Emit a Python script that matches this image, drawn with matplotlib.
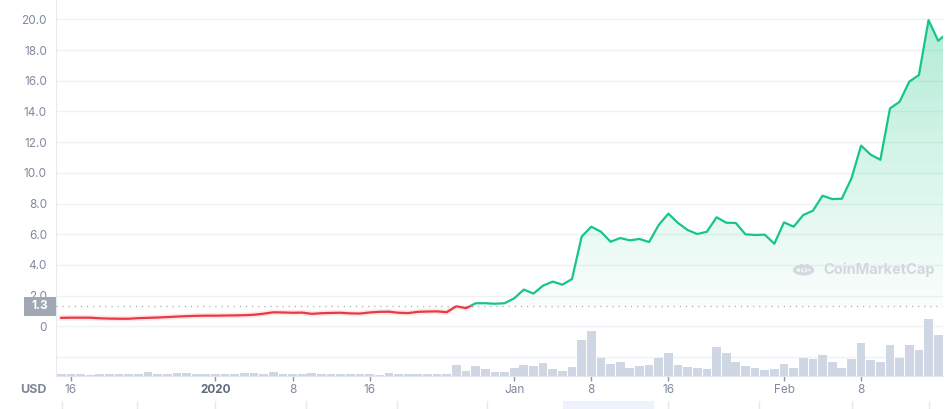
import matplotlib

matplotlib.use("Agg")

import matplotlib.pyplot as plt
import matplotlib.transforms as mtransforms
import numpy as np
from matplotlib.colors import LinearSegmentedColormap
from matplotlib.patches import Circle, Rectangle
from matplotlib.path import Path


# daily price (USD) and traded volume (millions)
PRICE = [
    0.55, 0.56, 0.56, 0.56, 0.52, 0.50, 0.49, 0.49, 0.53, 0.55,
    0.57, 0.60, 0.63, 0.66, 0.68, 0.69, 0.69, 0.70, 0.71, 0.72,
    0.75, 0.82, 0.91, 0.90, 0.88, 0.89, 0.81, 0.85, 0.87, 0.88,
    0.84, 0.83, 0.90, 0.94, 0.95, 0.88, 0.86, 0.94, 0.96, 0.97,
    0.92,
    1.31, 1.18, 1.50, 1.50, 1.47, 1.50, 1.82, 2.39, 2.13, 2.65,
    2.91, 2.71, 3.08, 5.84, 6.49, 6.16, 5.51, 5.75, 5.60, 5.69,
    5.49, 6.60, 7.34, 6.73, 6.27, 6.01, 6.16, 7.10, 6.75, 6.73,
    5.99, 5.95, 5.97, 5.38, 6.77, 6.49, 7.25, 7.53, 8.51, 8.29,
    8.31, 9.64, 11.77, 11.18, 10.85, 14.20, 14.63, 15.94, 16.37, 19.95,
    18.60, 19.15,
]

VOLUME = [
    2, 2, 2, 1, 2, 2, 2, 2, 2, 4,
    2, 2, 3, 3, 2, 2, 2, 2, 2, 3,
    3, 2, 4, 2, 2, 2, 3, 2, 2, 2,
    2, 2, 2, 1, 3, 2, 2, 2, 2, 2,
    2, 11, 5, 10, 7, 4, 4, 8, 11, 10,
    13, 7, 5, 9, 36, 45, 18, 12, 14, 8,
    10, 11, 18, 23, 11, 9, 8, 7, 29, 23,
    14, 10, 8, 6, 7, 12, 8, 18, 17, 21,
    14, 8, 17, 33, 16, 14, 31, 18, 31, 26,
    57, 41, 40,
]

BASELINE = 1.3

TICK_INDEX = [1, 16, 24, 32, 47, 55, 63, 75, 83]
TICK_LABELS = ["16", "2020", "8", "16", "Jan", "8", "16", "Feb", "8"]

NAV_GRID = [0.1, 7.9, 15.9, 25.4, 34.8, 44.2, 53.7, 63.0, 72.4, 82.1, 90.0]
NAV_WINDOW = (52.1, 61.4)

GREEN = "#16c784"
RED = "#ea3943"
GRID = "#eff2f5"
BAR = "#cfd6e4"
LABEL = "#808a9d"

plt.rcParams["font.family"] = ["Inter", "DejaVu Sans"]


def main() -> None:
    price = np.array(PRICE)
    volume = np.array(VOLUME)
    x = np.arange(len(price))

    x_min, x_max = -0.58, 91.5
    y_min, y_max = -3.24, 21.26

    fig = plt.figure(figsize=(9.51, 4.09), dpi=100)
    ax = fig.add_axes([55.7 / 951, 33 / 409, (943 - 55.7) / 951, 376 / 409])
    ax.set_xlim(x_min, x_max)
    ax.set_ylim(y_min, y_max)

    # grid / axes styling
    ax.set_yticks(np.arange(-2, 21, 2))
    ax.set_yticklabels(
        ["", "0"] + [f"{v:.1f}" for v in np.arange(2, 21, 2)]
    )
    ax.grid(axis="y", color=GRID, linewidth=1)
    ax.tick_params(axis="y", length=0, pad=6.3, labelsize=8.5, labelcolor=LABEL)
    ax.set_xticks(TICK_INDEX)
    ax.set_xticklabels(TICK_LABELS)
    ax.tick_params(
        axis="x", length=3.6, width=1, color="#8f96a6", pad=2.5,
        labelsize=8.5, labelcolor=LABEL,
    )
    for label in ax.get_xticklabels():
        if label.get_text() == "2020":
            label.set_fontweight("bold")
            label.set_color("#616a7d")
    for side in ("top", "right"):
        ax.spines[side].set_visible(False)
    ax.spines["left"].set_color("#e6e9ee")
    ax.spines["bottom"].set_color("#e3e6ec")

    # volume bars on their own vertical scale at the bottom of the pane
    vol_top = volume[:92].max() / 0.152
    vol_trans = mtransforms.blended_transform_factory(
        ax.transData, mtransforms.Affine2D().scale(1, 1 / vol_top) + ax.transAxes
    )
    ax.bar(x, volume, width=0.9, color=BAR, transform=vol_trans, zorder=2)

    # green gradient fill above the baseline
    poly = ax.fill_between(
        x, price, BASELINE, where=price >= BASELINE, interpolate=True,
        facecolor="none", edgecolor="none",
    )
    clip = Path.make_compound_path(*poly.get_paths())
    poly.remove()
    cmap = LinearSegmentedColormap.from_list(
        "fade", [(0.086, 0.78, 0.52, 0.02), (0.086, 0.78, 0.52, 0.34)]
    )
    grad = np.linspace(0, 1, 256).reshape(-1, 1)
    im = ax.imshow(
        grad, extent=[x_min, x_max, BASELINE, 20.5], origin="lower",
        aspect="auto", cmap=cmap, zorder=2.5, interpolation="bilinear",
    )
    im.set_clip_path(clip, ax.transData)

    # price line: green above baseline, red below
    above = Rectangle((x_min, BASELINE), x_max - x_min, 50, transform=ax.transData)
    below = Rectangle((x_min, -50), x_max - x_min, 50 + BASELINE, transform=ax.transData)
    halo, = ax.plot(x, price, color=RED, linewidth=4, alpha=0.12, zorder=2.8)
    halo.set_clip_path(below)
    green, = ax.plot(x, price, color=GREEN, linewidth=1.6, zorder=3,
                     solid_joinstyle="round")
    green.set_clip_path(above)
    red, = ax.plot(x, price, color=RED, linewidth=1.6, zorder=3,
                   solid_joinstyle="round")
    red.set_clip_path(below)

    # baseline marker
    ax.axhline(BASELINE, color="#a3aab7", linewidth=1,
               linestyle=(0, (0.8, 3.6)), zorder=2.7)
    box_trans = mtransforms.blended_transform_factory(ax.transAxes, ax.transData)
    ax.add_patch(Rectangle(
        (-31.7 / 887.3, BASELINE - 0.62), 31.7 / 887.3, 1.24,
        transform=box_trans, facecolor="#a1a7b3", edgecolor="none",
        clip_on=False, zorder=5,
    ))
    ax.text(-15.8 / 887.3, BASELINE, f"{BASELINE}", transform=box_trans,
            ha="center", va="center", color="white", fontsize=8.5,
            fontweight="bold", zorder=6)

    # currency label
    fig.text(33.5 / 951, 1 - 390 / 409, "USD", ha="center", va="center",
             fontsize=9, fontweight="bold", color="#7f879a")

    # watermark
    wm = "#d3d7df"
    fig.patches.append(Circle(
        (803.5 / 951, 1 - 270 / 409), 9 / 951, transform=fig.transFigure,
        fill=False, edgecolor=wm, linewidth=2.2,
    ))
    fig.text(823 / 951, 1 - 270 / 409, "CoinMarketCap", ha="left",
             va="center", fontsize=10.5, fontweight="bold", color=wm)
    fig.text(803.5 / 951, 1 - 269 / 409, "M", ha="center", va="center",
             fontsize=8, fontweight="bold", color=wm)

    # navigator strip
    nav = fig.add_axes([55.7 / 951, 0, (943 - 55.7) / 951, 8 / 409])
    nav.set_xlim(x_min, x_max)
    nav.set_ylim(0, 1)
    nav.axis("off")
    for pos in NAV_GRID:
        nav.axvline(pos, color="#e6e9ee", linewidth=1)
    nav.axvspan(*NAV_WINDOW, color="#eef2fd", zorder=3)

    fig.savefig("out.png", dpi=100)
    plt.close(fig)


if __name__ == "__main__":
    main()
